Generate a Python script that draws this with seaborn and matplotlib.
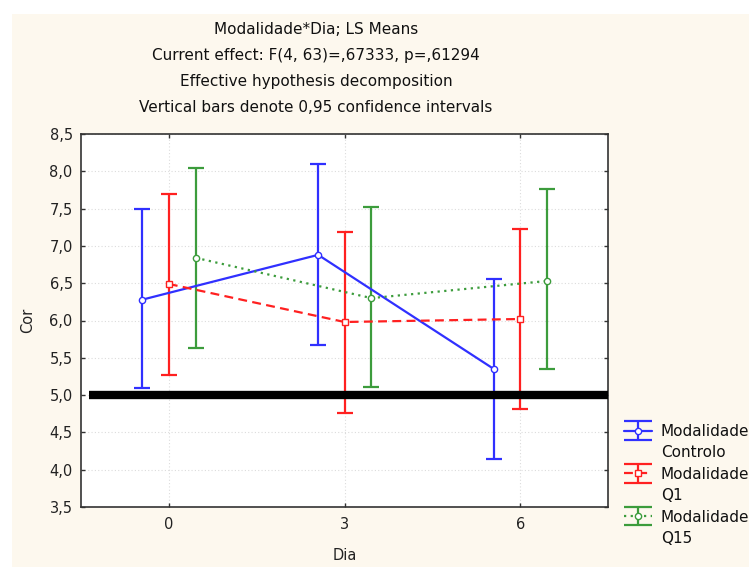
import matplotlib
matplotlib.use("Agg")
import matplotlib.pyplot as plt
import matplotlib.patches as mpatches
from matplotlib.lines import Line2D
from matplotlib.legend_handler import HandlerErrorbar
from matplotlib.container import ErrorbarContainer
from matplotlib.collections import LineCollection
import seaborn as sns
import pandas as pd
import numpy as np

# ---- data ----
days = [0, 3, 6]
groups = ["Controlo", "Q1", "Q15"]
mean_controlo = [6.28, 6.88, 5.35]
low_controlo = [5.09, 5.67, 4.14]
high_controlo = [7.49, 8.10, 6.55]
mean_q1 = [6.49, 5.98, 6.02]
low_q1 = [5.27, 4.76, 4.81]
high_q1 = [7.69, 7.18, 7.22]
mean_q15 = [6.84, 6.30, 6.53]
low_q15 = [5.63, 5.11, 5.35]
high_q15 = [8.05, 7.52, 7.76]
reference_level = 5.0
y_ticks = [3.5, 4.0, 4.5, 5.0, 5.5, 6.0, 6.5, 7.0, 7.5, 8.0, 8.5]
y_tick_labels = ["3,5", "4,0", "4,5", "5,0", "5,5", "6,0", "6,5", "7,0", "7,5", "8,0", "8,5"]
title_lines = ["Modalidade*Dia; LS Means",
               "Current effect: F(4, 63)=,67333, p=,61294",
               "Effective hypothesis decomposition",
               "Vertical bars denote 0,95 confidence intervals"]
legend_title_word = "Modalidade"

means = [mean_controlo, mean_q1, mean_q15]
lows = [low_controlo, low_q1, low_q15]
highs = [high_controlo, high_q1, high_q15]
offsets = [-0.45, 0.0, 0.46]
colors = ["#3030ff", "#ff2020", "#3c9c3c"]
linestyles = ["-", (0, (4, 2.4)), (0, (1, 2))]
markers = ["o", "s", "o"]

rows = []
for g, m, lo, hi, off in zip(groups, means, lows, highs, offsets):
    for d, mv, l, h in zip(days, m, lo, hi):
        rows.append(dict(Modalidade=g, Dia=d, x=d + off, mean=mv, low=l, high=h))
df = pd.DataFrame(rows)

sns.set_theme(style="white")
plt.rcParams['font.family'] = ['DejaVu Sans']

fig = plt.figure(figsize=(7.49, 5.67), dpi=100, facecolor="#fdf8ee")
# white margins at left and top
fig.patches.append(mpatches.Rectangle((0, 0), 12 / 749, 1, transform=fig.transFigure,
                                      facecolor="white", edgecolor="none", zorder=-10))
fig.patches.append(mpatches.Rectangle((0, 1 - 14 / 567), 1, 14 / 567, transform=fig.transFigure,
                                      facecolor="white", edgecolor="none", zorder=-10))
ax = fig.add_axes([81 / 749, 1 - 507 / 567, (608 - 81) / 749, (507 - 134) / 567])
ax.set_facecolor("white")

lw = 1.6
for g, col, ls, mk in zip(groups, colors, linestyles, markers):
    sub = df[df.Modalidade == g]
    sns.lineplot(data=sub, x="x", y="mean", ax=ax, color=col, linestyle=ls,
                 linewidth=lw, marker=mk, markersize=4.5, markerfacecolor="white",
                 markeredgecolor=col, markeredgewidth=1.0, legend=False, zorder=3)
    ax.errorbar(sub["x"], sub["mean"],
                yerr=[sub["mean"] - sub["low"], sub["high"] - sub["mean"]],
                fmt="none", ecolor=col, elinewidth=lw, capsize=6, capthick=lw,
                zorder=2)

ax.axhline(reference_level, xmin=(-1.36 + 1.5) / 9.0, xmax=1.0, color="black",
           linewidth=6, zorder=4, solid_capstyle="butt")

ax.set_xlim(-1.5, 7.5)
ax.set_ylim(3.5, 8.5)
ax.set_xticks(days)
ax.set_xticklabels([str(d) for d in days], fontsize=10.5, color="#222222")
ax.set_yticks(y_ticks)
ax.set_yticklabels(y_tick_labels, fontsize=10.5, color="#222222")
ax.tick_params(axis="x", pad=7.5)
ax.tick_params(axis="y", pad=6)
ax.grid(True, linestyle=(0, (1, 2)), color="#dcdcdc", linewidth=0.8)
ax.tick_params(axis="both", which="both", direction="in", length=3, width=1,
               color="#333333", top=True, right=True, labeltop=False, labelright=False,
               bottom=True, left=True)
for sp in ax.spines.values():
    sp.set_color("#333333")
    sp.set_linewidth(1.2)

ax.set_xlabel("Dia", fontsize=10.5, color="#222222", labelpad=11)
ax.set_ylabel("Cor", fontsize=10.5, color="#222222", labelpad=10)

for i, t in enumerate(title_lines):
    fig.text(316 / 749, 1 - (30 + 25.8 * i) / 567, t, ha="center", va="center",
             fontsize=11, color="#111111")

# legend proxies (errorbar-style glyphs), plus blank entries for 2nd label lines
leg_handles, leg_labels = [], []
for g, col, ls, mk in zip(groups, colors, linestyles, markers):
    dl = Line2D([], [], color=col, linestyle=ls, linewidth=lw, marker=mk, markersize=4.5,
                markerfacecolor="white", markeredgecolor=col, markeredgewidth=1.0)
    cap_top = Line2D([], [], color=col, marker="_", markersize=20, markeredgewidth=lw,
                     linestyle="none")
    cap_bot = Line2D([], [], color=col, marker="_", markersize=20, markeredgewidth=lw,
                     linestyle="none")
    bar = LineCollection([], colors=col, linewidths=lw)
    cont = ErrorbarContainer((dl, (cap_top, cap_bot), (bar,)), has_xerr=False, has_yerr=True)
    leg_handles.append(cont)
    leg_labels.append(legend_title_word)
    leg_handles.append(Line2D([], [], linestyle="none", marker=None, alpha=0))
    leg_labels.append(g)

leg = ax.legend(leg_handles, leg_labels,
                handler_map={ErrorbarContainer: HandlerErrorbar(xerr_size=0.5, yerr_size=0.6)},
                loc="upper left", bbox_to_anchor=(624 / 749, 1 - 424 / 567),
                bbox_transform=fig.transFigure, frameon=False, fontsize=11,
                handlelength=1.85, handleheight=0.7, handletextpad=0.55, labelspacing=0.42,
                borderaxespad=0, borderpad=0, numpoints=1)
for t in leg.get_texts():
    t.set_color("#111111")

fig.savefig("out.png", dpi=100, facecolor="#fdf8ee")
